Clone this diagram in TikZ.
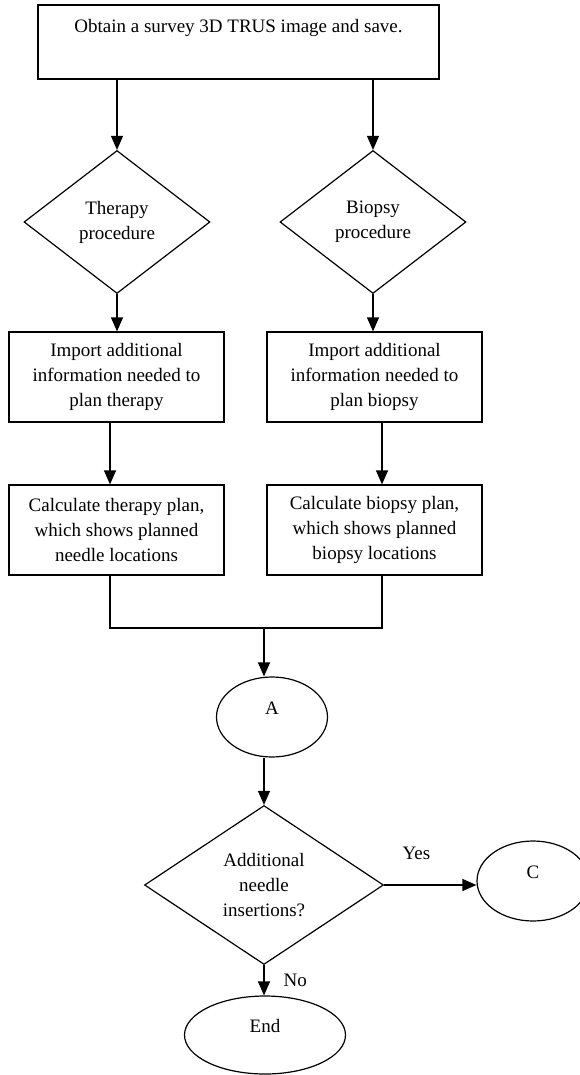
\documentclass[tikz,border=0pt]{standalone}
\usepackage{fontspec}
\setmainfont{Liberation Serif}
\usetikzlibrary{shapes.geometric,arrows.meta}

\begin{document}
\begin{tikzpicture}[x=1pt,y=-1pt,
  every node/.style={font=\fontsize{19}{25}\selectfont, align=center},
  stepbox/.style={draw, line width=1.2pt, rectangle, inner sep=0pt,
    minimum width=215pt, minimum height=90pt},
  choice/.style={draw, line width=1.2pt, diamond, inner sep=0pt},
  term/.style={draw, line width=1.2pt, ellipse, inner sep=0pt,
    text height=13pt, text depth=19pt},
  arr/.style={line width=1.2pt, -{Triangle[length=14pt,width=12pt]}},
  link/.style={line width=1.2pt},
  tag/.style={inner sep=0pt}]
\useasboundingbox (0,0) rectangle (580,1075);

% survey image
\node[draw, line width=1.2pt, inner sep=0pt, minimum width=401pt, minimum height=74pt,
  text height=13pt, text depth=31pt] (start) at (238.5,42)
  {Obtain a survey 3D TRUS image and save.};

% the two branches
\node[choice, minimum width=186pt, minimum height=143pt] (ther) at (117,222)
  {Therapy\\ procedure};
\node[choice, minimum width=186pt, minimum height=143pt] (bio) at (373,222)
  {Biopsy\\ procedure};

\node[stepbox] (impT) at (116.5,377) {Import additional\\ information needed to\\ plan therapy};
\node[stepbox] (impB) at (374.5,377) {Import additional\\ information needed to\\ plan biopsy};
\node[stepbox] (calcT) at (116.5,530) {Calculate therapy plan,\\ which shows planned\\ needle locations};
\node[stepbox] (calcB) at (374.5,530) {Calculate biopsy plan,\\ which shows planned\\ biopsy locations};

% merge and decision
\coordinate (join) at (264,628);
\node[term, minimum width=111pt, minimum height=80pt] (A) at (272,717) {A};
\node[choice, minimum width=239pt, minimum height=159pt] (dec) at (264,885)
  {Additional\\ needle\\ insertions?};
\node[term, minimum width=112pt, minimum height=80pt] (C) at (533,881) {C};
\node[term, minimum width=161pt, minimum height=78pt] (End) at (265,1035) {End};

% connectors
\draw[arr] (ther.north |- start.south) -- (ther.north);
\draw[arr] (bio.north |- start.south) -- (bio.north);
\draw[arr] (ther.south) -- (ther.south |- impT.north);
\draw[arr] (bio.south) -- (bio.south |- impB.north);
\draw[arr] ([xshift=-6.5pt]impT.south) -- ([xshift=-6.5pt]calcT.north);
\draw[arr] ([xshift=7.5pt]impB.south) -- ([xshift=7.5pt]calcB.north);
\draw[link] ([xshift=-6.5pt]calcT.south) |- (join) -| ([xshift=7.5pt]calcB.south);
\draw[arr] (join) -- (A.north -| join);
\draw[arr] (A.south -| join) -- (dec.north);
\draw[arr] (dec.east) -- (dec.east -| C.west)
  node[tag, pos=.35, above=25pt] {Yes};
\draw[arr] (dec.south) -- (dec.south |- End.north)
  node[tag, pos=.5, right=19pt] {No};
\end{tikzpicture}
\end{document}
